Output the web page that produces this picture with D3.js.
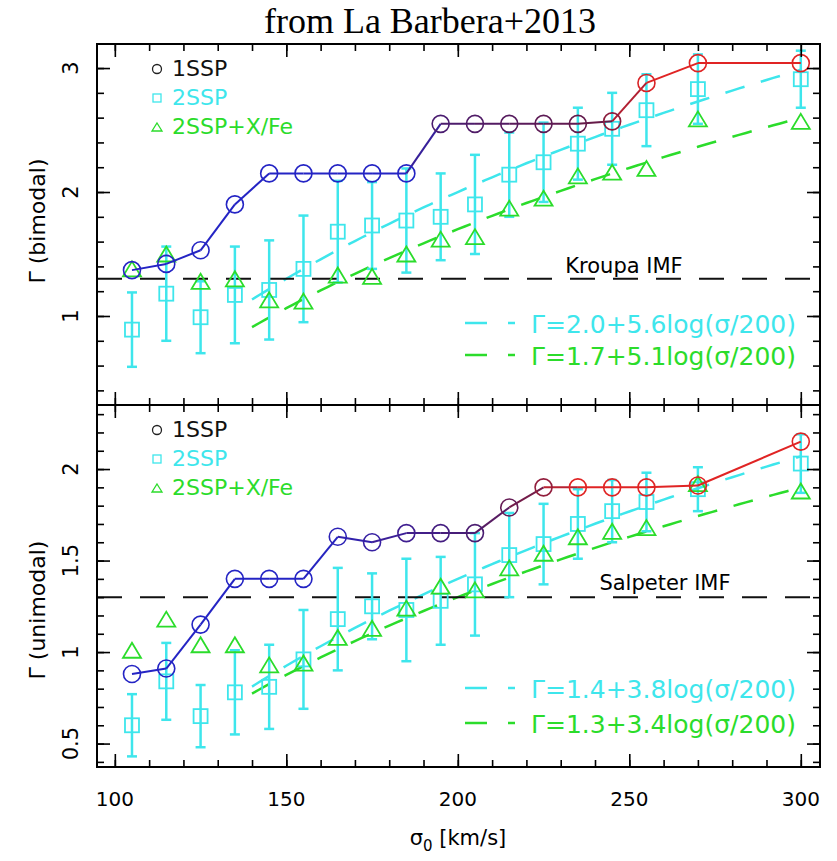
<!DOCTYPE html>
<html>
<head>
<meta charset="utf-8">
<script src="https://cdn.jsdelivr.net/npm/d3@7"></script>
<style>
body { margin: 0; background: #fff; }
text { font-family: "DejaVu Sans", sans-serif; }
</style>
</head>
<body>
<script>
// velocity dispersion bins
var sigma = [105, 115, 125, 135, 145, 155, 165, 175, 185, 195, 205, 215, 225, 235, 245, 255, 270, 300];

// top panel: bimodal IMF slope
var biOne    = [1.37, 1.42, 1.53, 1.90, 2.15, 2.15, 2.15, 2.15, 2.15, 2.55, 2.55, 2.55, 2.55, 2.55, 2.57, 2.88, 3.04, 3.04];
var biTwo    = [0.89, 1.18, 0.99, 1.17, 1.21, 1.38, 1.68, 1.73, 1.77, 1.80, 1.90, 2.14, 2.24, 2.39, 2.51, 2.66, 2.83, 2.91];
var biTwoErr = [0.30, 0.38, 0.29, 0.39, 0.40, 0.43, 0.41, 0.35, 0.42, 0.35, 0.40, 0.34, 0.32, 0.29, 0.29, 0.29, 0.28, 0.23];
var biXFe    = [1.38, 1.50, 1.28, 1.30, 1.13, 1.12, 1.33, 1.32, 1.50, 1.62, 1.64, 1.87, 1.95, 2.13, 2.16, 2.19, 2.59, 2.57];

// bottom panel: unimodal IMF slope
var uniOne    = [0.88, 0.91, 1.15, 1.40, 1.40, 1.40, 1.63, 1.60, 1.65, 1.65, 1.65, 1.79, 1.90, 1.90, 1.90, 1.90, 1.91, 2.15];
var uniTwo    = [0.60, 0.84, 0.65, 0.78, 0.81, 0.96, 1.18, 1.25, 1.23, 1.28, 1.37, 1.53, 1.59, 1.70, 1.77, 1.82, 1.89, 2.03];
var uniTwoErr = [0.17, 0.21, 0.17, 0.23, 0.23, 0.27, 0.28, 0.18, 0.28, 0.24, 0.28, 0.23, 0.22, 0.19, 0.17, 0.16, 0.12, 0.16];
var uniXFe    = [1.01, 1.18, 1.04, 1.04, 0.93, 0.94, 1.08, 1.13, 1.24, 1.36, 1.34, 1.46, 1.54, 1.63, 1.66, 1.68, 1.92, 1.88];

// fits  Gamma = a + b log(sigma/200)
var biFitA  = [2.0, 1.7];
var biFitB  = [5.6, 5.1];
var uniFitA = [1.4, 1.3];
var uniFitB = [3.8, 3.4];
var fitRange = [140, 300];

var imfName  = ["Kroupa IMF", "Salpeter IMF"];
var imfSlope = [1.3, 1.3];

var xTicks   = [100, 150, 200, 250, 300];
var biTicks  = [1, 2, 3];
var uniTicks = [0.5, 1, 1.5, 2];
var seriesNames = ["1SSP", "2SSP", "2SSP+X/Fe"];

var W = 837, H = 861;
var L = 97, R = 820, T = 44, MID = 405, B = 767;
var CYAN = "#3ee6ec", GREEN = "#2bdc2b";

var svg = d3.select("body").append("svg")
	.attr("width", W).attr("height", H);
svg.append("rect").attr("width", W).attr("height", H).attr("fill", "#fff");

var x = d3.scaleLinear().domain([94.8, 305.6]).range([L, R]);

var panels = [
	{ top: T, bot: MID, dom: [0.282, 3.194], one: biOne, two: biTwo, err: biTwoErr, xfe: biXFe,
	  fa: biFitA, fb: biFitB, imf: 0, ticks: biTicks, minor: d3.range(2, 16).map(function(i) { return i / 5; }),
	  title: "\u0393 (bimodal)", titleY: 221, legY: [69, 98, 127], fitY: [333, 365], imfX: 624, imfY: 273,
	  col: d3.scaleLinear().domain([185, 195, 240, 256]).range(["#2424c4", "#4a1c70", "#661a48", "#e02424"]).clamp(true) },
	{ top: MID, bot: B, dom: [0.372, 2.35], one: uniOne, two: uniTwo, err: uniTwoErr, xfe: uniXFe,
	  fa: uniFitA, fb: uniFitB, imf: 1, ticks: uniTicks, minor: d3.range(4, 24).map(function(i) { return i / 10; }),
	  title: "\u0393 (unimodal)", titleY: 610, legY: [430, 459, 488], fitY: [698, 733], imfX: 665, imfY: 590,
	  col: d3.scaleLinear().domain([158, 180, 205, 222, 235]).range(["#2424c4", "#3c1f98", "#4a1c70", "#7a1c44", "#e02424"]).clamp(true) }
];

function triPath(cx, cy, w, h) {
	return "M" + cx + "," + (cy - h / 2) + "L" + (cx + w / 2) + "," + (cy + h / 2) + "L" + (cx - w / 2) + "," + (cy + h / 2) + "Z";
}

panels.forEach(function(p) {
	var y = d3.scaleLinear().domain(p.dom).range([p.bot, p.top]);
	var g = svg.append("g");

	// fit curves
	var steps = d3.range(fitRange[0], fitRange[1] + 0.1, 2);
	[CYAN, GREEN].forEach(function(c, k) {
		var line = d3.line()
			.x(function(s) { return x(s); })
			.y(function(s) { return y(p.fa[k] + p.fb[k] * Math.log10(s / 200)); });
		g.append("path").attr("d", line(steps))
			.attr("fill", "none").attr("stroke", c).attr("stroke-width", 2.5)
			.attr("stroke-dasharray", "20,17");
	});

	// reference IMF
	g.append("line")
		.attr("x1", L).attr("x2", R)
		.attr("y1", y(imfSlope[p.imf])).attr("y2", y(imfSlope[p.imf]))
		.attr("stroke", "#111").attr("stroke-width", 2).attr("stroke-dasharray", "25,18");
	g.append("text").attr("x", p.imfX).attr("y", p.imfY)
		.attr("text-anchor", "middle").attr("font-size", 21).text(imfName[p.imf]);

	// 2SSP error bars and squares
	sigma.forEach(function(s, i) {
		var cx = x(s), y0 = y(p.two[i] - p.err[i]), y1 = y(p.two[i] + p.err[i]);
		g.append("line").attr("x1", cx).attr("x2", cx).attr("y1", y0).attr("y2", y1)
			.attr("stroke", CYAN).attr("stroke-width", 2.5);
		[y0, y1].forEach(function(yy) {
			g.append("line").attr("x1", cx - 5).attr("x2", cx + 5).attr("y1", yy).attr("y2", yy)
				.attr("stroke", CYAN).attr("stroke-width", 2.5);
		});
		g.append("rect").attr("x", cx - 7).attr("y", y(p.two[i]) - 7)
			.attr("width", 14).attr("height", 14)
			.attr("fill", "none").attr("stroke", CYAN).attr("stroke-width", 1.8);
	});

	// 2SSP+X/Fe triangles
	sigma.forEach(function(s, i) {
		g.append("path").attr("d", triPath(x(s), y(p.xfe[i]), 18, 15))
			.attr("fill", "none").attr("stroke", GREEN).attr("stroke-width", 1.8);
	});

	// 1SSP line and circles
	for (var i = 0; i < sigma.length - 1; i++) {
		g.append("line")
			.attr("x1", x(sigma[i])).attr("y1", y(p.one[i]))
			.attr("x2", x(sigma[i + 1])).attr("y2", y(p.one[i + 1]))
			.attr("stroke", p.col((sigma[i] + sigma[i + 1]) / 2)).attr("stroke-width", 2);
	}
	sigma.forEach(function(s, i) {
		g.append("circle").attr("cx", x(s)).attr("cy", y(p.one[i])).attr("r", 8.5)
			.attr("fill", "none").attr("stroke", p.col(s)).attr("stroke-width", 1.6);
	});

	// legend
	var lx = 157;
	g.append("circle").attr("cx", lx).attr("cy", p.legY[0]).attr("r", 4.5)
		.attr("fill", "none").attr("stroke", "#222").attr("stroke-width", 1.3);
	g.append("rect").attr("x", lx - 4).attr("y", p.legY[1] - 4).attr("width", 8).attr("height", 8)
		.attr("fill", "none").attr("stroke", CYAN).attr("stroke-width", 1.3);
	g.append("path").attr("d", triPath(lx, p.legY[2], 10, 8))
		.attr("fill", "none").attr("stroke", GREEN).attr("stroke-width", 1.3);
	["#111", CYAN, GREEN].forEach(function(c, k) {
		g.append("text").attr("x", 172).attr("y", p.legY[k] + 7)
			.attr("font-size", 22).attr("fill", c).text(seriesNames[k]);
	});

	// fit labels
	[CYAN, GREEN].forEach(function(c, k) {
		var by = p.fitY[k];
		g.append("line").attr("x1", 465).attr("x2", 487).attr("y1", by - 10).attr("y2", by - 10)
			.attr("stroke", c).attr("stroke-width", 2.5);
		g.append("line").attr("x1", 508).attr("x2", 515).attr("y1", by - 10).attr("y2", by - 10)
			.attr("stroke", c).attr("stroke-width", 2.5);
		g.append("text").attr("x", 531).attr("y", by).attr("font-size", 25).attr("fill", c)
			.text("\u0393=" + p.fa[k].toFixed(1) + "+" + p.fb[k].toFixed(1) + "log(\u03c3/200)");
	});

	// ticks, inside the frame on all sides
	function tickSet(axis, tx, ty) {
		svg.append("g").attr("transform", "translate(" + tx + "," + ty + ")")
			.call(axis)
			.call(function(a) { a.select(".domain").remove(); })
			.selectAll("line").attr("stroke", "#000").attr("stroke-width", 1.6);
	}
	var xMinor = d3.range(100, 301, 10);
	tickSet(d3.axisTop(x).tickValues(xMinor).tickSize(-7).tickFormat(""), 0, p.top);
	tickSet(d3.axisTop(x).tickValues(xTicks).tickSize(-13).tickFormat(""), 0, p.top);
	tickSet(d3.axisBottom(x).tickValues(xMinor).tickSize(-7).tickFormat(""), 0, p.bot);
	tickSet(d3.axisBottom(x).tickValues(xTicks).tickSize(-13).tickFormat(""), 0, p.bot);
	tickSet(d3.axisRight(y).tickValues(p.minor).tickSize(7).tickFormat(""), L, 0);
	tickSet(d3.axisRight(y).tickValues(p.ticks).tickSize(13).tickFormat(""), L, 0);
	tickSet(d3.axisLeft(y).tickValues(p.minor).tickSize(7).tickFormat(""), R, 0);
	tickSet(d3.axisLeft(y).tickValues(p.ticks).tickSize(13).tickFormat(""), R, 0);

	// y tick labels, rotated
	p.ticks.forEach(function(v) {
		svg.append("text").attr("transform", "translate(78," + y(v) + ") rotate(-90)")
			.attr("text-anchor", "middle").attr("font-size", 21).text(String(v));
	});
	svg.append("text").attr("transform", "translate(45," + p.titleY + ") rotate(-90)")
		.attr("text-anchor", "middle").attr("font-size", 22).text(p.title);
});

// frame
svg.append("rect").attr("x", L).attr("y", T).attr("width", R - L).attr("height", B - T)
	.attr("fill", "none").attr("stroke", "#000").attr("stroke-width", 2);
svg.append("line").attr("x1", L).attr("x2", R).attr("y1", MID).attr("y2", MID)
	.attr("stroke", "#000").attr("stroke-width", 2);

// x labels
xTicks.forEach(function(v) {
	svg.append("text").attr("x", x(v)).attr("y", 806)
		.attr("text-anchor", "middle").attr("font-size", 20).text(v);
});
var xt = svg.append("text").attr("x", 458).attr("y", 845)
	.attr("text-anchor", "middle").attr("font-size", 21);
xt.append("tspan").text("\u03c3");
xt.append("tspan").attr("dy", 6).attr("font-size", 15).text("0");
xt.append("tspan").attr("dy", -6).text(" [km/s]");

// title
svg.append("text").attr("x", 430).attr("y", 33)
	.attr("text-anchor", "middle")
	.style("font-family", "'Liberation Serif', 'Times New Roman', serif")
	.attr("font-size", 36).text("from La Barbera+2013");
</script>
</body>
</html>
